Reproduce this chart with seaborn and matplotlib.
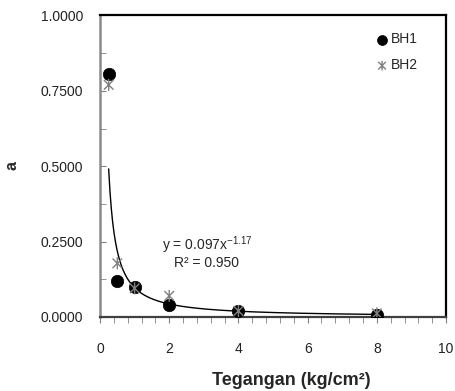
import numpy as np
import pandas as pd
import matplotlib
matplotlib.use("Agg")
import matplotlib.pyplot as plt
import seaborn as sns
from matplotlib.path import Path
from matplotlib.ticker import MultipleLocator, FormatStrFormatter

# Data
tegangan = [0.25, 0.5, 1, 2, 4, 8]
bh1 = [0.805, 0.120, 0.100, 0.040, 0.020, 0.008]
bh2 = [0.770, 0.178, 0.095, 0.070, 0.020, 0.012]
fit_a = 0.097
fit_b = -1.17
eq_text = "y = 0.097x$^{-1.17}$"
r2_text = "R² = 0.950"

sns.set_style("white")
plt.rcParams['font.family'] = ['Liberation Sans', 'DejaVu Sans']
plt.rcParams['mathtext.fontset'] = 'custom'
plt.rcParams['mathtext.rm'] = 'Liberation Sans'

df = pd.DataFrame({
    "x": tegangan * 2,
    "a": bh1 + bh2,
    "series": ["BH1"] * len(tegangan) + ["BH2"] * len(tegangan),
})

star = Path([(-1, -1), (1, 1), (-1, 1), (1, -1), (0, -1.25), (0, 1.25)],
            [Path.MOVETO, Path.LINETO, Path.MOVETO, Path.LINETO, Path.MOVETO, Path.LINETO])

fig = plt.figure(figsize=(4.55, 3.91), dpi=100)
ax = fig.add_axes([0.2198, 0.1893, 0.7605, 0.7711])

# trendline
xs = np.linspace(min(tegangan), max(tegangan), 400)
ax.plot(xs, fit_a * xs ** fit_b, color="black", lw=1.0, zorder=2)

sns.scatterplot(data=df[df.series == "BH1"], x="x", y="a", ax=ax, marker="o",
                color="black", s=80, edgecolor="black", linewidth=0.5, label="BH1", zorder=3)
sns.scatterplot(data=df[df.series == "BH2"], x="x", y="a", ax=ax, marker=star,
                color="none", edgecolor="#808080", facecolor="none", s=75, linewidth=1.0,
                label="BH2", zorder=4)

ax.set_xlim(0, 10)
ax.set_ylim(0, 1)
ax.xaxis.set_major_locator(MultipleLocator(2))
ax.xaxis.set_minor_locator(MultipleLocator(0.4))
ax.yaxis.set_major_locator(MultipleLocator(0.25))
ax.yaxis.set_minor_locator(MultipleLocator(0.125))
ax.yaxis.set_major_formatter(FormatStrFormatter("%.4f"))

ax.tick_params(axis="x", which="both", direction="out", length=4, color="#808080",
               labelsize=10, pad=14, bottom=True, labelcolor="#222222")
ax.tick_params(axis="y", which="both", direction="in", length=4, color="#808080",
               labelsize=10, pad=12, left=True, labelcolor="#222222")

ax.spines["left"].set_color("#8a8a8a")
ax.spines["left"].set_linewidth(1.8)
ax.spines["bottom"].set_color("#404040")
ax.spines["bottom"].set_linewidth(1.6)
for side in ["top", "right"]:
    ax.spines[side].set_color("black")
    ax.spines[side].set_linewidth(1.6)

ax.set_xlabel("Tegangan (kg/cm²)", fontsize=13, fontweight="bold", va="center")
ax.xaxis.set_label_coords(0.552, -0.21)
ax.set_ylabel("a", fontsize=11.5, fontweight="bold", va="center")
ax.yaxis.set_label_coords(-0.254, 0.502)

ax.text(0.309, 0.239, eq_text, transform=ax.transAxes, fontsize=10,
        ha="center", va="center")
ax.text(0.309, 0.179, r2_text, transform=ax.transAxes, fontsize=10,
        ha="center", va="center")

leg = ax.legend(loc="upper left", frameon=False, fontsize=10, handletextpad=0.3,
                handlelength=0.7, borderaxespad=0, borderpad=0, labelspacing=0.86,
                markerscale=0.8, bbox_to_anchor=(0.801, 0.944))

fig.savefig("out.png", dpi=100)
